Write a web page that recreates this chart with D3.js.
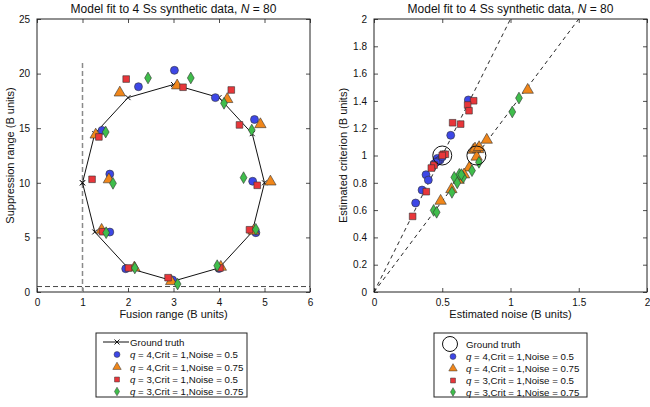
<!DOCTYPE html>
<html><head><meta charset="utf-8">
<script src="https://cdn.jsdelivr.net/npm/d3@7"></script>
<style>
body{margin:0;background:#fff;}
svg{font-family:"Liberation Sans",Arial,Helvetica,sans-serif;}
</style></head>
<body><svg id="c" width="650" height="407"></svg>
<script>
// ---------- DATA ----------
const leftXTicks = [0,1,2,3,4,5,6];
const leftYTicks = [0,5,10,15,20,25];
const rightXTicks = [0,0.5,1,1.5,2];
const rightYTicks = [0,0.2,0.4,0.6,0.8,1,1.2,1.4,1.6,1.8,2];

const gtFusion = [1,1.27,2,3,4,4.73,5,4.73,4,3,2,1.27,1];
const gtSupp   = [10,5.5,2.2,1,2.2,5.5,10,14.5,17.8,19,17.8,14.5,10];

const seriesNames = ["q = 4,Crit = 1,Noise = 0.5","q = 4,Crit = 1,Noise = 0.75","q = 3,Crit = 1,Noise = 0.5","q = 3,Crit = 1,Noise = 0.75"];
const seriesColors = ["#3d47e6","#f0861a","#e8363a","#3fbd4b"];
const seriesShapes = ["circle","triangle","square","diamond"];

// left plot: fusion (x) and suppression (y) per series
const fusionQ4N05 = [1.60,1.60,1.95,2.98,4.00,4.81,4.74,4.78,3.92,3.02,2.23,1.43];
const suppQ4N05   = [10.8,5.49,2.13,1.10,2.15,5.43,10.14,15.8,17.8,20.3,18.8,14.8];
const fusionQ4N075 = [1.58,1.42,2.14,2.95,4.04,4.76,5.13,4.91,4.18,3.08,1.82,1.29];
const suppQ4N075   = [10.3,5.68,2.23,0.98,2.29,5.60,10.1,15.35,17.65,18.9,18.25,14.4];
const fusionQ3N05 = [1.21,1.44,2.01,2.88,4.02,4.67,4.84,4.45,4.27,3.21,1.96,1.36];
const suppQ3N05   = [10.32,5.52,2.20,1.31,2.20,5.70,9.77,15.3,18.5,18.75,19.5,14.2];
const fusionQ3N075 = [1.67,1.52,2.15,3.09,3.96,4.81,4.54,4.72,4.11,3.38,2.44,1.51];
const suppQ3N075   = [9.95,5.43,2.20,0.73,2.41,5.74,10.47,14.83,17.28,19.6,19.6,14.65];

// right plot: estimated noise (x) and criterion (y)
const noiseQ4N05 = [0.691,0.562,0.464,0.484,0.44,0.381,0.398,0.352,0.305,0.47,0.455,0.50];
const critQ4N05  = [1.407,1.148,0.979,0.967,0.938,0.859,0.82,0.747,0.652,0.96,0.95,0.99];
const noiseQ4N075 = [1.126,0.826,0.728,0.764,0.752,0.698,0.62,0.66,0.567,0.488,0.74,0.77];
const critQ4N075  = [1.48,1.114,1.04,1.045,0.99,0.911,0.82,0.86,0.752,0.667,1.05,1.06];
const noiseQ3N05 = [0.730,0.686,0.696,0.576,0.635,0.508,0.523,0.44,0.42,0.383,0.283,0.50];
const critQ3N05  = [1.401,1.37,1.328,1.24,1.23,1.009,1.009,0.93,0.908,0.735,0.554,1.0];
const noiseQ3N075 = [1.062,1.013,0.769,0.718,0.654,0.625,0.588,0.61,0.571,0.437,0.459,0.64];
const critQ3N075  = [1.421,1.319,0.95,0.889,0.84,0.862,0.84,0.80,0.73,0.598,0.584,0.86];

const gtNoise = [0.5,0.75];
const gtCrit  = [1,1];
const refLineNoise = [[0,1],[0,1.5]];
const refLineCrit  = [[0,2],[0,2]];

const vLineX = [1,1], vLineY = [0,21];
const hLineX = [0,6], hLineY = [0.5,0.5];

// ---------- DRAW ----------
const svg = d3.select("#c");
const T = 292, B = 19;

function symbolPath(shape, s){
  const map = {circle:[d3.symbolCircle,50],triangle:[d3.symbolTriangle,56],square:[d3.symbolSquare,44],diamond:[d3.symbolDiamond,40]};
  const m = map[shape];
  return d3.symbol().type(m[0]).size(m[1]*(s||1))();
}

function panel(x0,x1,xd,yd,xticks,yticks,xfmt,yfmt,xlabel,ylabel,ylabX){
  const x = d3.scaleLinear().domain(xd).range([x0,x1]);
  const y = d3.scaleLinear().domain(yd).range([T,B]);
  const g = svg.append("g");
  const ax = d3.axisBottom(x).tickValues(xticks).tickFormat(xfmt).tickSizeInner(-4).tickSizeOuter(0).tickPadding(7);
  const ay = d3.axisLeft(y).tickValues(yticks).tickFormat(yfmt).tickSizeInner(-4).tickSizeOuter(0).tickPadding(7);
  const axT = d3.axisTop(x).tickValues(xticks).tickFormat("").tickSizeInner(-4).tickSizeOuter(0);
  const ayR = d3.axisRight(y).tickValues(yticks).tickFormat("").tickSizeInner(-4).tickSizeOuter(0);
  [g.append("g").attr("transform",`translate(0,${T})`).call(ax),
   g.append("g").attr("transform",`translate(${x0},0)`).call(ay),
   g.append("g").attr("transform",`translate(0,${B})`).call(axT),
   g.append("g").attr("transform",`translate(${x1},0)`).call(ayR)].forEach(a=>{
     a.selectAll(".domain").remove();
     a.selectAll("line").attr("stroke","#222").attr("stroke-width",0.8);
     a.selectAll("text").attr("font-size",10).attr("fill","#111").attr("font-family","Liberation Sans, Arial, sans-serif");
   });
  g.append("rect").attr("x",x0).attr("y",B).attr("width",x1-x0).attr("height",T-B)
    .attr("fill","none").attr("stroke","#222").attr("stroke-width",1);
  const t = g.append("text").attr("x",(x0+x1)/2).attr("y",13).attr("text-anchor","middle").attr("font-size",12).attr("fill","#111");
  t.append("tspan").text("Model fit to 4 Ss synthetic data, ");
  t.append("tspan").attr("font-style","italic").text("N");
  t.append("tspan").text(" = 80");
  g.append("text").attr("x",(x0+x1)/2).attr("y",318).attr("text-anchor","middle").attr("font-size",11).attr("fill","#111").text(xlabel);
  g.append("text").attr("transform",`translate(${ylabX},${(T+B)/2}) rotate(-90)`).attr("text-anchor","middle").attr("font-size",11).attr("fill","#111").text(ylabel);
  return {x,y,g};
}

function drawMarkers(g,x,y,xs,ys,i){
  xs.forEach((v,k)=>{
    g.append("path").attr("d",symbolPath(seriesShapes[i]))
      .attr("transform",`translate(${x(v)},${y(ys[k])})`)
      .attr("fill",seriesColors[i]).attr("stroke","#333").attr("stroke-width",0.6);
  });
}

// LEFT
const L = panel(37,310,[0,6],[0,25],leftXTicks,leftYTicks,d3.format("d"),d3.format("d"),
  "Fusion range (B units)","Suppression range (B units)",14);
const line = d3.line().x(d=>L.x(d[0])).y(d=>L.y(d[1]));
L.g.append("path").attr("d",line(vLineX.map((v,i)=>[v,vLineY[i]]))).attr("stroke","#8a8a8a").attr("stroke-width",1.5).attr("stroke-dasharray","5,3").attr("fill","none");
L.g.append("path").attr("d",line(hLineX.map((v,i)=>[v,hLineY[i]]))).attr("stroke","#333").attr("stroke-width",0.9).attr("stroke-dasharray","5,3").attr("fill","none");
L.g.append("path").attr("d",line(gtFusion.map((v,i)=>[v,gtSupp[i]]))).attr("stroke","#111").attr("stroke-width",1).attr("fill","none");
gtFusion.forEach((v,i)=>{
  L.g.append("path").attr("d",d3.symbol().type(d3.symbolX).size(18)()).attr("transform",`translate(${L.x(v)},${L.y(gtSupp[i])})`).attr("stroke","#111").attr("stroke-width",1).attr("fill","none");
});
const leftX=[fusionQ4N05,fusionQ4N075,fusionQ3N05,fusionQ3N075];
const leftY=[suppQ4N05,suppQ4N075,suppQ3N05,suppQ3N075];
leftX.forEach((xs,i)=>drawMarkers(L.g,L.x,L.y,xs,leftY[i],i));

// RIGHT
const fmtR = d=> String(d);
const R = panel(374,647,[0,2],[0,2],rightXTicks,rightYTicks,fmtR,fmtR,
  "Estimated noise (B units)","Estimated criterion (B units)",347);
const lineR = d3.line().x(d=>R.x(d[0])).y(d=>R.y(d[1]));
refLineNoise.forEach((xs,i)=>{
  R.g.append("path").attr("d",lineR(xs.map((v,k)=>[v,refLineCrit[i][k]]))).attr("stroke","#111").attr("stroke-width",0.9).attr("stroke-dasharray","4,3.5").attr("fill","none");
});
const rightX=[noiseQ4N05,noiseQ4N075,noiseQ3N05,noiseQ3N075];
const rightY=[critQ4N05,critQ4N075,critQ3N05,critQ3N075];
rightX.forEach((xs,i)=>drawMarkers(R.g,R.x,R.y,xs,rightY[i],i));
gtNoise.forEach((v,i)=>{
  R.g.append("circle").attr("cx",R.x(v)).attr("cy",R.y(gtCrit[i])).attr("r",9.5).attr("fill","none").attr("stroke","#111").attr("stroke-width",1);
});

// LEGENDS
function legend(bx,by,bw,bh,rows,gtKind,textX,markX){
  const g = svg.append("g");
  g.append("rect").attr("x",bx).attr("y",by).attr("width",bw).attr("height",bh).attr("fill","#fff").attr("stroke","#222").attr("stroke-width",1);
  if(gtKind==="line"){
    g.append("line").attr("x1",markX-14).attr("x2",markX+12).attr("y1",rows[0]).attr("y2",rows[0]).attr("stroke","#111").attr("stroke-width",1);
    g.append("path").attr("d",d3.symbol().type(d3.symbolX).size(18)()).attr("transform",`translate(${markX},${rows[0]})`).attr("stroke","#111").attr("fill","none");
  } else {
    g.append("circle").attr("cx",markX-3).attr("cy",rows[0]).attr("r",7.5).attr("fill","none").attr("stroke","#111").attr("stroke-width",1);
  }
  g.append("text").attr("x",textX).attr("y",rows[0]+3.5).attr("font-size",9.7).attr("fill","#111").text("Ground truth");
  seriesNames.forEach((s,i)=>{
    g.append("path").attr("d",symbolPath(seriesShapes[i],0.55)).attr("transform",`translate(${markX},${rows[i+1]})`)
      .attr("fill",seriesColors[i]).attr("stroke","#333").attr("stroke-width",0.5);
    const t=g.append("text").attr("x",textX).attr("y",rows[i+1]+3.5).attr("font-size",9.7).attr("fill","#111");
    t.append("tspan").attr("font-style","italic").text(s.slice(0,1));
    t.append("tspan").text(s.slice(1));
  });
}
legend(96,333,151,64,[342,354.5,367,379.5,391.5],"line",130,117);
legend(434,333,153,64,[344,356.5,368.5,380.5,392],"circle",466,453);
</script></body></html>
